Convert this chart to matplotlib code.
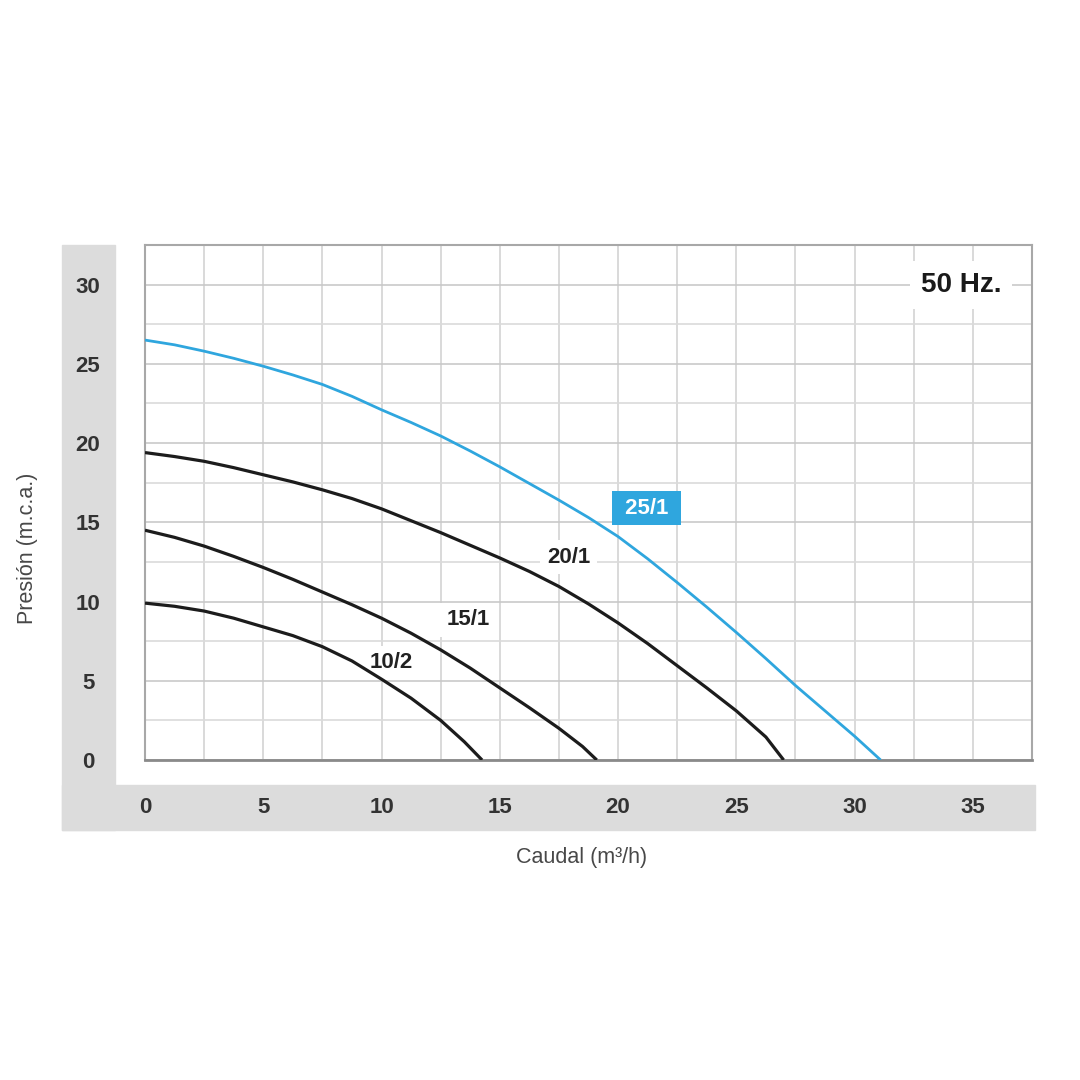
import matplotlib
matplotlib.use("Agg")
import matplotlib.pyplot as plt
import numpy as np
from matplotlib.patches import Rectangle

plt.rcParams['font.family'] = ['Liberation Sans', 'DejaVu Sans']

# caudal (m3/h) and presion (m.c.a.), one pair per pump
q_10_2 = [0, 1.25, 2.5, 3.75, 5, 6.25, 7.5, 8.75, 10, 11.25, 12.5, 13.5, 14.25]
h_10_2 = [9.9, 9.7, 9.4, 8.95, 8.4, 7.85, 7.15, 6.25, 5.1, 3.9, 2.5, 1.15, 0]

q_15_1 = [0, 1.25, 2.5, 3.75, 5, 6.25, 7.5, 8.75, 10, 11.25, 12.5, 13.75, 15, 16.25, 17.5, 18.5, 19.1]
h_15_1 = [14.5, 14.05, 13.5, 12.85, 12.15, 11.4, 10.6, 9.8, 8.95, 8.0, 6.95, 5.8, 4.55, 3.3, 2.0, 0.85, 0]

q_20_1 = [0, 1.25, 2.5, 3.75, 5, 6.25, 7.5, 8.75, 10, 11.25, 12.5, 13.75, 15, 16.25,
          17.5, 18.75, 20, 21.25, 22.5, 23.75, 25, 26.25, 27.0]
h_20_1 = [19.4, 19.15, 18.85, 18.45, 18.0, 17.55, 17.05, 16.5, 15.85, 15.1, 14.35, 13.55, 12.75, 11.9,
          10.95, 9.85, 8.65, 7.35, 5.95, 4.55, 3.1, 1.45, 0]

q_25_1 = [0, 1.25, 2.5, 3.75, 5, 6.25, 7.5, 8.75, 10, 11.25, 12.5, 13.75, 15, 16.25, 17.5,
          18.75, 20, 21.25, 22.5, 23.75, 25, 26.25, 27.5, 28.75, 30, 31.1]
h_25_1 = [26.5, 26.2, 25.8, 25.35, 24.85, 24.3, 23.7, 22.95, 22.1, 21.3, 20.45, 19.5, 18.5, 17.45, 16.4,
          15.3, 14.1, 12.7, 11.2, 9.65, 8.05, 6.4, 4.7, 3.1, 1.5, 0]

curve_names = ['10/2', '15/1', '20/1', '25/1']
label_q = [10.42, 13.66, 17.9, 21.2]
label_h = [6.13, 8.84, 12.8, 15.9]

x_ticks = [0, 5, 10, 15, 20, 25, 30, 35]
y_ticks = [0, 5, 10, 15, 20, 25, 30]

BLUE = '#2fa6de'
INK = '#1c1c1c'
BAND = '#dcdcdc'

fig = plt.figure(figsize=(10.8, 10.8), dpi=100)
fig.patch.set_facecolor('white')

# gray bands behind the tick labels
fig.patches.append(Rectangle((62/1080, 1-830/1080), (115-62)/1080, (830-245)/1080,
                             transform=fig.transFigure, color=BAND, zorder=-5))
fig.patches.append(Rectangle((62/1080, 1-830/1080), (1035-62)/1080, (830-785)/1080,
                             transform=fig.transFigure, color=BAND, zorder=-5))

ax = fig.add_axes([145/1080, 1-760/1080, (1032-145)/1080, (760-245)/1080])
ax.set_xlim(0, 37.5)
ax.set_ylim(0, 32.5)

ax.set_xticks(x_ticks)
ax.set_xticks(np.arange(0, 37.6, 2.5), minor=True)
ax.set_yticks(y_ticks)
ax.set_yticks(np.arange(0, 32.6, 2.5), minor=True)
ax.grid(which='major', axis='y', color='#c9c9c9', lw=1.2, zorder=1)
ax.grid(which='minor', axis='y', color='#dadada', lw=1.2, zorder=1)
ax.grid(which='both', axis='x', color='#d3d3d3', lw=1.2, zorder=1)
ax.tick_params(which='both', length=0)
ax.tick_params(axis='x', pad=34, labelsize=16, labelcolor='#333333')
ax.tick_params(axis='y', pad=41, labelsize=16, labelcolor='#333333')
for lab in ax.get_xticklabels():
    lab.set_fontweight('bold')
    lab.set_va('center')
for lab in ax.get_yticklabels():
    lab.set_fontweight('bold')
    lab.set_ha('center')

for s in ['top', 'right', 'left']:
    ax.spines[s].set_color('#a8a8a8')
    ax.spines[s].set_linewidth(1.5)
ax.spines['bottom'].set_color('#8a8a8a')
ax.spines['bottom'].set_linewidth(2)

ax.plot(q_10_2, h_10_2, color=INK, lw=2.3, zorder=3, solid_capstyle='butt', solid_joinstyle='round')
ax.plot(q_15_1, h_15_1, color=INK, lw=2.3, zorder=3, solid_capstyle='butt', solid_joinstyle='round')
ax.plot(q_20_1, h_20_1, color=INK, lw=2.3, zorder=3, solid_capstyle='butt', solid_joinstyle='round')
ax.plot(q_25_1, h_25_1, color=BLUE, lw=2.0, zorder=3, solid_capstyle='butt', solid_joinstyle='round')

for name, qx, hy in zip(curve_names[:3], label_q[:3], label_h[:3]):
    ax.text(qx, hy, name, ha='center', va='center', fontsize=16, fontweight='bold',
            color='#222222', zorder=2.5,
            bbox=dict(boxstyle='square,pad=0.3', fc='white', ec='none'))
ax.text(label_q[3], label_h[3], ' ' + curve_names[3] + ' ', ha='center', va='center', fontsize=16,
        fontweight='bold', color='white', zorder=4,
        bbox=dict(boxstyle='square,pad=0.3', fc=BLUE, ec='none'))

ax.text(34.5, 30, '50 Hz.', ha='center', va='center', fontsize=20, fontweight='bold',
        color='#1a1a1a', zorder=4,
        bbox=dict(boxstyle='square,pad=0.4', fc='white', ec='none'))

fig.text(28/1080, 1-548/1080, 'Presión (m.c.a.)', rotation=90, ha='center', va='center',
         fontsize=15.5, color='#484848')
fig.text(582/1080, 1-858/1080, 'Caudal (m³/h)', ha='center', va='center',
         fontsize=15.5, color='#484848')

fig.savefig('out.png', dpi=100)
